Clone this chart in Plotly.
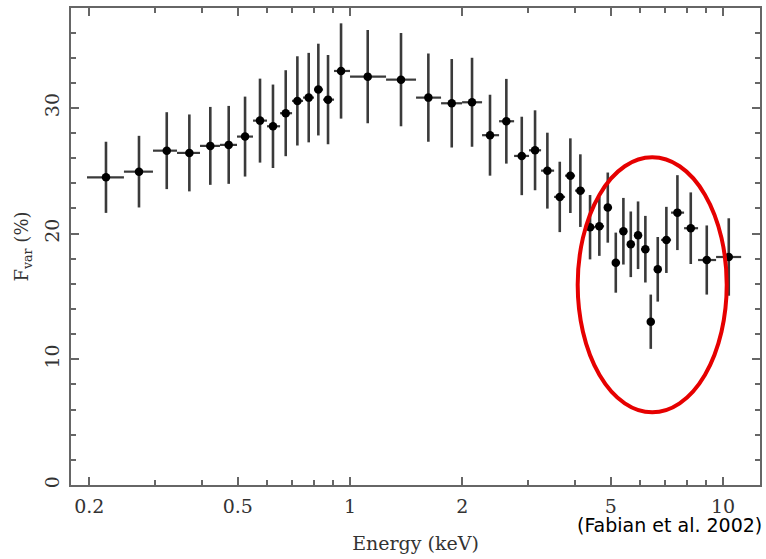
import plotly.graph_objects as go

# Bin centres (keV) and fractional variability (%)
energy = [0.2217, 0.2718, 0.3226, 0.3709, 0.4221, 0.4729, 0.5231, 0.5737, 0.6215,
          0.6724, 0.7225, 0.7749, 0.8223, 0.8730, 0.9460, 1.1154, 1.3697, 1.6216,
          1.8735, 2.1234, 2.3727, 2.6243, 2.8863, 3.1332, 3.3806, 3.6497, 3.8962,
          4.1441, 4.3995, 4.6590, 4.9084, 5.1570, 5.4050, 5.6571, 5.9172, 6.1903,
          6.4003, 6.6820, 7.0469, 7.5441, 8.1927, 9.0426, 10.358]
fvar = [24.48, 24.93, 26.60, 26.42, 26.98, 27.06, 27.72, 28.99, 28.54,
        29.58, 30.56, 30.82, 31.46, 30.66, 32.94, 32.49, 32.25, 30.82,
        30.37, 30.45, 27.83, 28.94, 26.18, 26.63, 25.01, 22.92, 24.61,
        23.42, 20.51, 20.59, 22.07, 17.69, 20.19, 19.15, 19.87, 18.76,
        12.99, 17.16, 19.50, 21.67, 20.43, 17.90, 18.14]
fvar_err = [2.83, 2.85, 3.06, 3.06, 3.10, 3.10, 3.18, 3.34, 3.32,
            3.42, 3.55, 3.56, 3.65, 3.55, 3.79, 3.71, 3.71, 3.51,
            3.52, 3.54, 3.22, 3.37, 3.12, 3.18, 3.02, 2.80, 2.97,
            2.89, 2.56, 2.36, 2.79, 2.39, 2.65, 2.61, 2.69, 2.65,
            2.16, 2.57, 2.63, 2.98, 2.85, 2.75, 3.08]
# Energy bin edges (keV)
bin_edges = [0.1972, 0.2477, 0.2963, 0.3437, 0.3961, 0.4481, 0.4978, 0.5495, 0.5989,
             0.6493, 0.6992, 0.7482, 0.8007, 0.8466, 0.9060, 1.0, 1.249, 1.503,
             1.754, 1.997, 2.259, 2.509, 2.753, 3.019, 3.252, 3.524, 3.771,
             4.011, 4.266, 4.538, 4.797, 5.040, 5.296, 5.529, 5.773, 6.028,
             6.295, 6.531, 6.822, 7.254, 7.861, 8.570, 9.578, 11.18]

x_tickvals = [0.2, 0.5, 1, 2, 5, 10]
x_ticktext = ["0.2", "0.5", "1", "2", "5", "10"]
x_minor_ticks = [0.3, 0.4, 0.6, 0.7, 0.8, 0.9, 3, 4, 6, 7, 8, 9]
y_tickvals = [0, 10, 20, 30]

err_plus = [bin_edges[i + 1] - e for i, e in enumerate(energy)]
err_minus = [e - bin_edges[i] for i, e in enumerate(energy)]

SERIF = "DejaVu Serif, Liberation Serif, serif"
TEXT = "#333333"
AXIS = "#666666"
BAR = "#3a3a3a"

fig = go.Figure()
fig.add_trace(go.Scatter(
    x=energy, y=fvar, mode="markers",
    marker=dict(color="black", size=8.5, symbol="circle"),
    error_y=dict(type="data", array=fvar_err, color=BAR, thickness=2.6, width=0),
    error_x=dict(type="data", array=err_plus, arrayminus=err_minus,
                 color=BAR, thickness=2.2, width=0),
    showlegend=False, hoverinfo="skip",
))

axis_common = dict(
    showline=True, linecolor=AXIS, linewidth=2, mirror="ticks",
    ticks="inside", tickcolor=AXIS, tickwidth=1.5, ticklen=8,
    showgrid=False, zeroline=False, automargin=False,
    tickfont=dict(family=SERIF, size=19, color=TEXT),
)

fig.update_xaxes(
    type="log", range=[-0.748, 1.099],
    tickvals=x_tickvals, ticktext=x_ticktext, ticklabelstandoff=3,
    minor=dict(ticks="inside", ticklen=5, tickcolor=AXIS, tickwidth=1.5,
               tickvals=x_minor_ticks),
    title=dict(text="Energy (keV)", font=dict(family=SERIF, size=19, color=TEXT),
               standoff=21),
    **axis_common,
)
fig.update_yaxes(
    range=[0, 37.95], tickvals=y_tickvals, tickangle=-90, ticklabelstandoff=2,
    minor=dict(ticks="inside", ticklen=5, tickcolor=AXIS, tickwidth=1.5, dtick=2),
    title=dict(text="F<sub>var</sub> (%)", font=dict(family=SERIF, size=18, color=TEXT),
               standoff=8),
    **axis_common,
)

fig.add_shape(type="circle", xref="paper", yref="paper",
              x0=0.7354, x1=0.9517, y0=0.1524, y1=0.687,
              line=dict(color="#e60000", width=4))

fig.add_annotation(text="(Fabian et al. 2002)", xref="paper", yref="paper",
                   x=1.006, y=-0.0839, xanchor="right", yanchor="middle",
                   showarrow=False,
                   font=dict(family="DejaVu Sans, sans-serif", size=19, color="black"))

fig.update_layout(
    width=766, height=559,
    margin=dict(l=71, r=6, t=8, b=74),
    paper_bgcolor="white", plot_bgcolor="white",
)

fig.write_html("out.html", config={"displayModeBar": False},
               post_script="document.body.style.margin='0';document.body.style.overflow='hidden';")
